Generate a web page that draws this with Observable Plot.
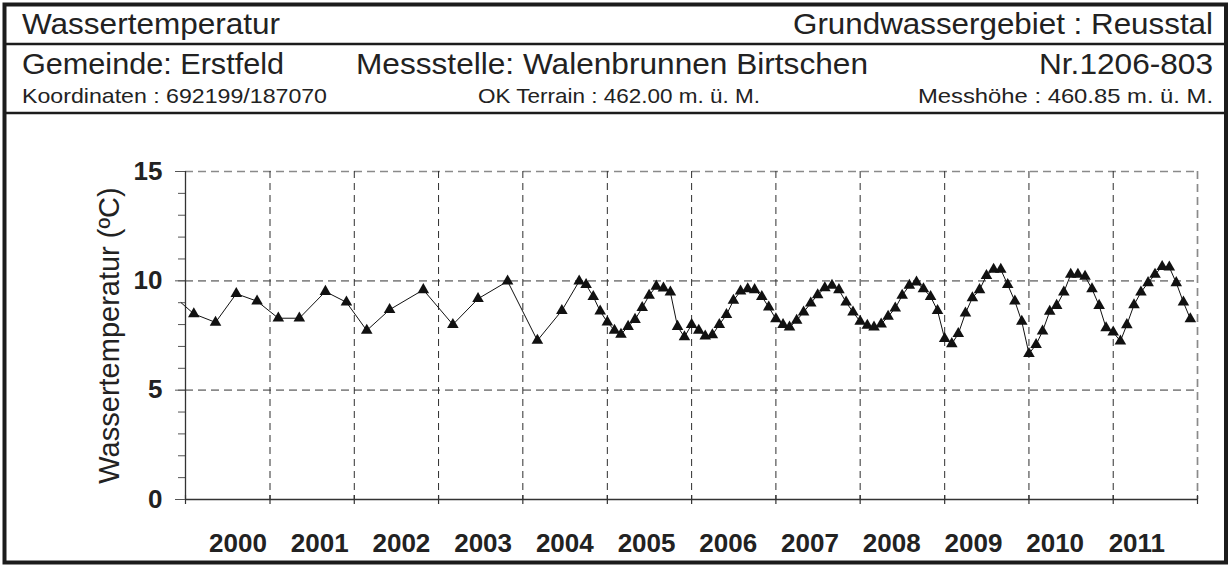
<!DOCTYPE html>
<html><head><meta charset="utf-8">
<script src="https://cdn.jsdelivr.net/npm/d3@7"></script>
<script src="https://cdn.jsdelivr.net/npm/@observablehq/plot@0.6"></script>
<style>
html,body{margin:0;padding:0;background:#fff;}
#wrap{position:relative;width:1229px;height:565px;overflow:hidden;background:#fff;}
#plot{position:absolute;left:0;top:115px;}
#overlay{position:absolute;left:0;top:0;pointer-events:none;}
</style></head><body>
<div id="wrap"><div id="plot"></div><svg id="overlay" width="1229" height="565"></svg></div>
<script>
// ---- header texts ----
const headerTitle = "Wassertemperatur";
const headerRegion = "Grundwassergebiet : Reusstal";
const headerGemeinde = "Gemeinde: Erstfeld";
const headerStation = "Messstelle: Walenbrunnen Birtschen";
const headerNumber = "Nr.1206-803";
const headerCoords = "Koordinaten : 692199/187070";
const headerTerrain = "OK Terrain : 462.00 m. ü. M.";
const headerHeight = "Messhöhe : 460.85 m. ü. M.";
const yLabel = "Wassertemperatur (ºC)";

// ---- data ----
// irregular early measurements
const earlyDates = ["1999-12-13","2000-02-06","2000-05-10","2000-08-08","2000-11-06",
  "2001-02-06","2001-05-08","2001-08-29","2001-11-28","2002-02-24","2002-06-03",
  "2002-10-27","2003-03-04","2003-06-21","2003-10-27","2004-03-04","2004-06-18","2004-09-01"];
const earlyTemps = [9.0,8.49,8.10,9.41,9.07,8.29,8.29,9.51,9.02,7.73,8.68,9.59,8.00,9.18,9.98,7.27,8.64,9.98];
// monthly measurements from 2004-10 to 2011-12
const monthlyStart = "2004-10-01";
const monthlyTemps = [
  9.82, 9.28, 8.61,
  8.11, 7.73, 7.55, 7.91, 8.23, 8.77, 9.33, 9.75, 9.66, 9.48, 7.91, 7.43,
  8.00, 7.73, 7.47, 7.53, 8.00, 8.45, 9.10, 9.53, 9.63, 9.59, 9.28, 8.80,
  8.26, 8.00, 7.88, 8.19, 8.57, 8.98, 9.36, 9.68, 9.79, 9.59, 9.02, 8.57,
  8.14, 7.96, 7.88, 8.02, 8.37, 8.75, 9.33, 9.79, 9.94, 9.63, 9.28, 8.64,
  7.35, 7.12, 7.58, 8.52, 9.22, 9.59, 10.24, 10.52, 10.52, 9.82, 9.07, 8.14,
  6.67, 7.08, 7.70, 8.60, 8.87, 9.48, 10.29, 10.29, 10.20, 9.63, 8.87, 7.85,
  7.65, 7.24, 7.99, 8.90, 9.48, 9.91, 10.29, 10.65, 10.62, 9.91, 9.02, 8.26
];
const yearLabels = ["2000","2001","2002","2003","2004","2005","2006","2007","2008","2009","2010","2011"];
const yMajorTicks = [0, 5, 10, 15];
const yMinorTicks = [0,1,2,3,4,5,6,7,8,9,10,11,12,13,14,15];

// ---- build table ----
const months = d3.utcMonth.every(1).range(new Date(monthlyStart), new Date(Date.UTC(2012,0,1)));
const series = earlyDates.map((d,i)=>({date:new Date(d), temp:earlyTemps[i]}))
  .concat(monthlyTemps.map((t,i)=>({date:months[i], temp:t})));
const markers = series.slice(1);

const t0 = Date.UTC(2000,0,1), t1 = Date.UTC(2012,0,1);
const yearBounds = d3.range(2000, 2013).map(y => new Date(Date.UTC(y,0,1)));
const innerBounds = yearBounds.slice(1, 12);
// Excel-style category label positions (slightly different spacing than the date axis)
const labels = yearLabels.map((s,i)=>({text:s, date:new Date(t0 + (t1-t0)*(0.622+0.969*i)/12)}));

const BOLD = '"Liberation Sans",Arial,Helvetica,sans-serif';
const SANS = '"Liberation Sans",Arial,Helvetica,sans-serif';

const chart = Plot.plot({
  width: 1229, height: 450,
  marginLeft: 185, marginRight: 32, marginTop: 56, marginBottom: 66,
  x: {type: "utc", domain: [new Date(t0), new Date(t1)], axis: null},
  y: {domain: [0, 15], label: null},
  style: {background: "white", overflow: "visible"},
  marks: [
    Plot.ruleY([5, 10, 15], {stroke: "#8a8a8a", strokeWidth: 1.7, strokeDasharray: "8,5"}),
    Plot.ruleX(innerBounds, {stroke: "#2e2e2e", strokeWidth: 1, strokeDasharray: "7,5"}),
    Plot.ruleX([yearBounds[12]], {stroke: "#8a8a8a", strokeWidth: 1.7, strokeDasharray: "8,5"}),
    Plot.ruleY([0], {stroke: "#333", strokeWidth: 1.3}),
    Plot.ruleX(yearBounds, {y1: 0, y2: 0, insetTop: -4, insetBottom: -5, stroke: "#333", strokeWidth: 1.2}),
    Plot.axisY(yMinorTicks, {tickSize: 7, tickFormat: () => "", label: null, stroke: "#555"}),
    Plot.axisY(yMajorTicks, {tickSize: 10, tickPadding: 13, label: null, stroke: "#555",
      fontSize: 26, fontWeight: "bold", fontFamily: BOLD, fill: "#222", ariaLabel: "ytick-labels"}),
    Plot.ruleX([yearBounds[0]], {stroke: "#333", strokeWidth: 1.3}),
    Plot.line(series, {x: "date", y: "temp", stroke: "#111", strokeWidth: 1}),
    Plot.dot(markers, {x: "date", y: "temp", symbol: "triangle", r: 4.3, fill: "#111", stroke: null}),
    Plot.text(labels, {x: "date", y: () => 0, text: "text", dy: 44.5, lineAnchor: "middle",
      fontSize: 26, fontWeight: "bold", fontFamily: BOLD, fill: "#222", ariaLabel: "year-labels"}),
    Plot.text([yLabel], {frameAnchor: "left", rotate: -90, dx: -76, textAnchor: "middle", lineAnchor: "middle",
      fontSize: 29, fontFamily: SANS, fill: "#222"})
  ]
});
// condensed look for the bold numbers (Arial-Narrow-like)
chart.querySelectorAll('g[aria-label="year-labels"] text, g[aria-label="ytick-labels"] text').forEach(el => {
  const n = el.textContent.length;
  if (n > 0) { el.setAttribute("textLength", n * 12.2); el.setAttribute("lengthAdjust", "spacingAndGlyphs"); }
});
document.getElementById("plot").appendChild(chart);

// ---- header / frame overlay ----
const svg = d3.select("#overlay");
svg.append("rect").attr("x",4.5).attr("y",4.5).attr("width",1221.5).attr("height",558)
  .attr("fill","none").attr("stroke","#1c1c1c").attr("stroke-width",4);
[44, 113].forEach(y => svg.append("line").attr("x1",4.5).attr("x2",1226).attr("y1",y).attr("y2",y)
  .attr("stroke","#1c1c1c").attr("stroke-width",2.5));
const headerItems = [
  {t: headerTitle, x: 22, y: 34, s: 30, len: 258, a: "start"},
  {t: headerRegion, x: 1213, y: 34, s: 30, len: 420, a: "end"},
  {t: headerGemeinde, x: 22, y: 74, s: 30, len: 262, a: "start"},
  {t: headerStation, x: 356, y: 74, s: 30, len: 512, a: "start"},
  {t: headerNumber, x: 1213, y: 74, s: 30, len: 174, a: "end"},
  {t: headerCoords, x: 22, y: 102.5, s: 21, len: 305, a: "start"},
  {t: headerTerrain, x: 478, y: 102.5, s: 21, len: 282, a: "start"},
  {t: headerHeight, x: 1213, y: 102.5, s: 21, len: 295, a: "end"}
];
headerItems.forEach(h => svg.append("text").text(h.t).attr("x",h.x).attr("y",h.y)
  .attr("font-family",SANS).attr("font-size",h.s).attr("fill","#222")
  .attr("text-anchor",h.a).attr("textLength",h.len).attr("lengthAdjust","spacingAndGlyphs"));
</script>
</body></html>
